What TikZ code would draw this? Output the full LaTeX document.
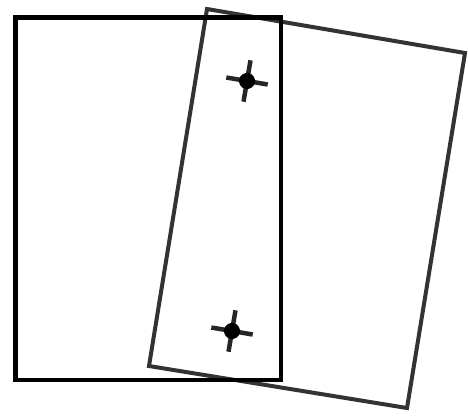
\documentclass[tikz,border=0pt]{standalone}
\begin{document}
\begin{tikzpicture}[x=1pt,y=-1pt,
  tilted/.style={draw=black!80,line width=4pt,line join=miter},
  frame/.style={draw=black,line width=4.5pt,line join=miter},
  armline/.style={draw=black!85,line width=4.5pt},
  dotfill/.style={fill=black}]
\useasboundingbox (0,0) rectangle (468,416);
% tilted rectangle
\coordinate (tl) at (207,9);
\coordinate (tr) at (465,53);
\coordinate (br) at (407,408);
\coordinate (bl) at (149,366);
\draw[tilted] (tl) -- (tr) -- (br) -- (bl) -- cycle;
% upright rectangle
\draw[frame] (15.5,17.5) rectangle (281,380);
% crosshairs
\foreach \cx/\cy/\nm in {247/81/ca, 232/331/cb}{
  \coordinate (\nm) at (\cx,\cy);
  \begin{scope}[shift={(\nm)},rotate=-9.6]
    \draw[armline] (-21,0) -- (21,0);
    \draw[armline] (0,-21) -- (0,21);
    \fill[dotfill] (0,0) circle (8);
  \end{scope}
}
\end{tikzpicture}
\end{document}
